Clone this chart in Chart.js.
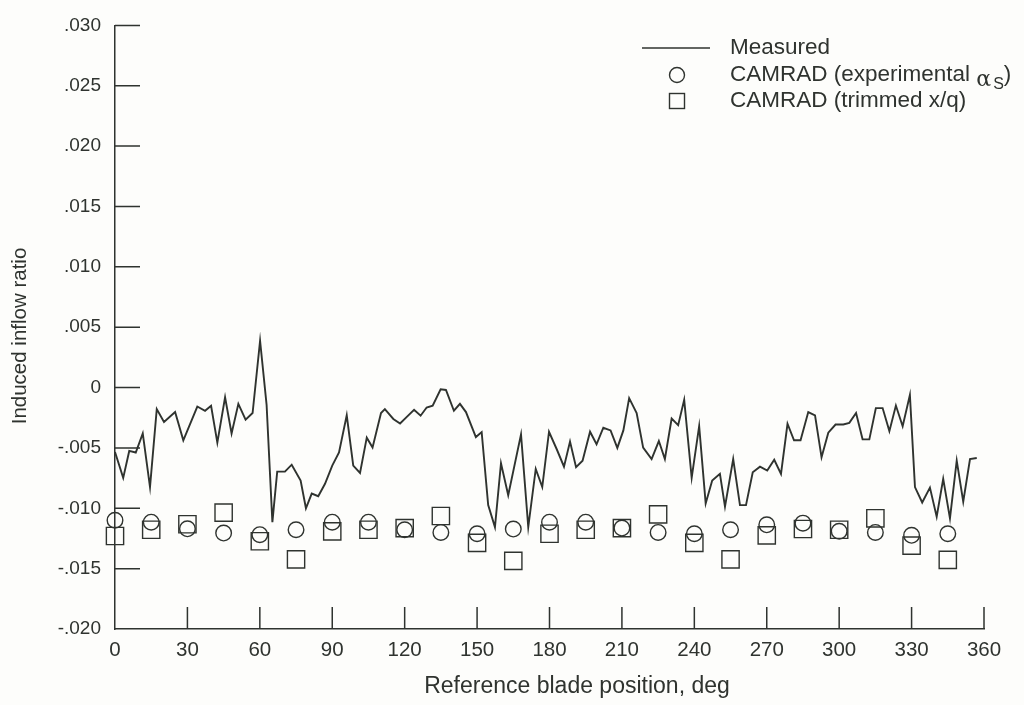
<!DOCTYPE html>
<html><head><meta charset="utf-8">
<script src="https://cdn.jsdelivr.net/npm/chart.js@4.4.0/dist/chart.umd.min.js"></script>
<style>html,body{margin:0;padding:0;background:#fdfdfb;} canvas{display:block}</style>
</head><body><canvas id="c" width="1024" height="705"></canvas>
<script>
// ---- data ----
const measuredDeg = [0,3.4,5.9,8.6,11.5,14.5,17.3,20.3,24.9,28.3,34.1,37.3,39.8,42.4,45.6,48.3,51.1,54.1,57,60.1,62.8,65.2,67.2,70.4,73.2,76.9,79.1,81.5,84.2,87,90,92.8,96,98.7,101.5,104.3,106.7,110.2,111.8,115.3,118.1,121.1,123.9,126.6,129.1,131.6,134.9,137.1,140.4,142.9,145.4,149.5,151.9,154.6,157.4,159.9,162.9,168.2,171.2,174.3,177,179.8,183,186,188.5,191,193.7,196.8,199.5,202.3,205.3,208.1,210.6,213,216.1,218.8,222.3,225.3,227.8,230.6,233.3,235.8,238.9,242,244.7,247.4,250.6,252.7,256.1,258.9,261.4,264.2,267.2,270.2,273.1,275.9,278.6,281.3,284,287.2,290,292.7,295.5,298.5,301.7,304.2,307,309.7,312.5,315.2,318,320.8,323.5,326.3,329.3,331.4,334.4,337.6,340.4,343.1,345.9,348.7,351.4,354.2,357];
const measuredVal = [-0.00534,-0.00748,-0.00525,-0.00538,-0.0038,-0.00824,-0.00178,-0.00285,-0.00203,-0.00437,-0.00157,-0.00192,-0.00151,-0.00456,-0.0008,-0.0038,-0.00135,-0.00266,-0.00211,0.00388,-0.00143,-0.01115,-0.00696,-0.00696,-0.00639,-0.0077,-0.01,-0.00878,-0.009,-0.00797,-0.00647,-0.00538,-0.0023,-0.00647,-0.00707,-0.00415,-0.00497,-0.00211,-0.00178,-0.0026,-0.00298,-0.00239,-0.00184,-0.00233,-0.00165,-0.00151,-0.00015,-0.0002,-0.00192,-0.00135,-0.00203,-0.0041,-0.00369,-0.00974,-0.01156,-0.00627,-0.00892,-0.00388,-0.01156,-0.00674,-0.00824,-0.00366,-0.00511,-0.00655,-0.00448,-0.0066,-0.00606,-0.00366,-0.0047,-0.00333,-0.00355,-0.005,-0.00355,-0.00088,-0.00211,-0.00497,-0.00592,-0.00443,-0.00592,-0.00257,-0.00312,-0.00102,-0.00748,-0.0032,-0.0096,-0.0077,-0.00715,-0.00987,-0.00592,-0.00974,-0.00974,-0.00701,-0.00655,-0.00688,-0.00598,-0.00715,-0.003,-0.00437,-0.00437,-0.00203,-0.0023,-0.00578,-0.00374,-0.00306,-0.00306,-0.00292,-0.00211,-0.00429,-0.00429,-0.0017,-0.0017,-0.00361,-0.00149,-0.0032,-0.00061,-0.00824,-0.00952,-0.00829,-0.01069,-0.00756,-0.01083,-0.00606,-0.00946,-0.00592,-0.00584];
const markerDeg = [0,15,30,45,60,75,90,105,120,135,150,165,180,195,210,225,240,255,270,285,300,315,330,345];
const circleVal = [-0.0110,-0.01115,-0.0117,-0.01205,-0.01219,-0.01178,-0.01115,-0.01115,-0.01178,-0.0120,-0.01211,-0.01172,-0.01115,-0.01115,-0.01164,-0.0120,-0.01211,-0.01178,-0.01137,-0.01123,-0.01191,-0.0120,-0.01224,-0.01211];
const squareVal = [-0.0123,-0.01178,-0.01132,-0.01036,-0.01273,-0.01423,-0.01191,-0.01178,-0.01164,-0.01064,-0.01287,-0.01436,-0.01211,-0.01178,-0.01164,-0.0105,-0.01287,-0.01423,-0.01224,-0.01172,-0.01178,-0.01083,-0.01309,-0.01428];
const xTickLabels = ['0','30','60','90','120','150','180','210','240','270','300','330','360'];
const yTickLabels = ['-.020','-.015','-.010','-.005','0','.005','.010','.015','.020','.025','.030'];
const seriesNames = ['Measured','CAMRAD (experimental ','CAMRAD (trimmed x/q)'];
const alphaSymbol = 'α';
const alphaSub = 'S';
const xTitle = 'Reference blade position, deg';
const yTitle = 'Induced inflow ratio';

// ---- styling ----
const INK = '#2f332f';
const BG = '#fdfdfb';
const SANS = '"Liberation Sans", Arial, Helvetica, sans-serif';

const pts = (xs, ys) => xs.map((d, i) => ({x: d, y: ys[i]}));

const decor = {
  id: 'decor',
  beforeDraw(chart) {
    const ctx = chart.ctx;
    ctx.save();
    ctx.fillStyle = BG;
    ctx.fillRect(0, 0, chart.width, chart.height);
    ctx.restore();
  },
  afterDraw(chart) {
    const {ctx, chartArea: a, scales: {x, y}} = chart;
    ctx.save();
    ctx.strokeStyle = INK;
    ctx.lineWidth = 1.5;
    ctx.beginPath();
    y.ticks.forEach(t => {
      const py = y.getPixelForValue(t.value);
      if (Math.abs(py - a.bottom) < 2) return;
      ctx.moveTo(a.left, py); ctx.lineTo(a.left + 25, py);
    });
    x.ticks.forEach(t => {
      const px = x.getPixelForValue(t.value);
      if (Math.abs(px - a.left) < 2) return;
      ctx.moveTo(px, a.bottom); ctx.lineTo(px, a.bottom - 22);
    });
    ctx.stroke();

    // axis titles
    ctx.fillStyle = INK;
    ctx.textAlign = 'center';
    ctx.textBaseline = 'middle';
    ctx.font = '23px ' + SANS;
    ctx.fillText(xTitle, 577, 687);
    ctx.save();
    ctx.translate(20, 336);
    ctx.rotate(-Math.PI / 2);
    ctx.font = '20.5px ' + SANS;
    ctx.fillText(yTitle, 0, 0);
    ctx.restore();

    // legend
    const tx = 730;
    const rows = [48, 75, 101];
    ctx.lineWidth = 1.6;
    ctx.beginPath();
    ctx.moveTo(642, rows[0]); ctx.lineTo(710, rows[0]);
    ctx.stroke();
    ctx.lineWidth = 1.4;
    ctx.beginPath();
    ctx.arc(677, rows[1], 7.5, 0, Math.PI * 2);
    ctx.stroke();
    ctx.strokeRect(669.5, rows[2] - 7.5, 15, 15);
    ctx.textAlign = 'left';
    ctx.font = '22.5px ' + SANS;
    ctx.fillText(seriesNames[0], tx, rows[0]);
    ctx.fillText(seriesNames[1], tx, rows[1]);
    let w = ctx.measureText(seriesNames[1]).width;
    ctx.font = '22px "DejaVu Serif", serif';
    ctx.fillText(alphaSymbol, tx + w, rows[1] + 5);
    let w2 = ctx.measureText(alphaSymbol).width;
    ctx.font = '16px ' + SANS;
    ctx.fillText(alphaSub, tx + w + w2 + 2, rows[1] + 10);
    let w3 = ctx.measureText(alphaSub).width;
    ctx.font = '22.5px ' + SANS;
    ctx.fillText(')', tx + w + w2 + 2 + w3, rows[1]);
    ctx.fillText(seriesNames[2], tx, rows[2]);
    ctx.restore();
  }
};

new Chart(document.getElementById('c'), {
  type: 'scatter',
  data: {
    datasets: [
      {label: seriesNames[0], data: pts(measuredDeg, measuredVal), showLine: true, borderColor: INK, borderWidth: 1.9, pointRadius: 0, tension: 0, clip: false},
      {label: seriesNames[1], data: pts(markerDeg, circleVal), pointStyle: 'circle', pointRadius: 7.8, borderColor: INK, borderWidth: 1.4, backgroundColor: 'rgba(0,0,0,0)', clip: false},
      {label: seriesNames[2], data: pts(markerDeg, squareVal), pointStyle: 'rect', pointRadius: 12.2, borderColor: INK, borderWidth: 1.4, backgroundColor: 'rgba(0,0,0,0)', clip: false}
    ]
  },
  options: {
    responsive: false,
    animation: false,
    devicePixelRatio: 1,
    layout: {padding: {top: 16, right: 40, left: 0, bottom: 0}},
    plugins: {legend: {display: false}, tooltip: {enabled: false}},
    scales: {
      x: {
        type: 'linear', min: 0, max: 360,
        afterFit: s => { s.height = 76; },
        ticks: {stepSize: 30, padding: 9, color: INK, font: {family: SANS, size: 20.5},
          callback: (v, i) => xTickLabels[i]},
        grid: {display: false, drawTicks: false},
        border: {display: true, color: INK, width: 1.5}
      },
      y: {
        type: 'linear', min: -0.02, max: 0.03,
        afterFit: s => { s.width = 115; },
        ticks: {stepSize: 0.005, padding: 14, color: INK, font: {family: SANS, size: 19},
          callback: (v, i) => yTickLabels[i]},
        grid: {display: false, drawTicks: false},
        border: {display: true, color: INK, width: 1.5}
      }
    }
  },
  plugins: [decor]
});
</script>
</body></html>
